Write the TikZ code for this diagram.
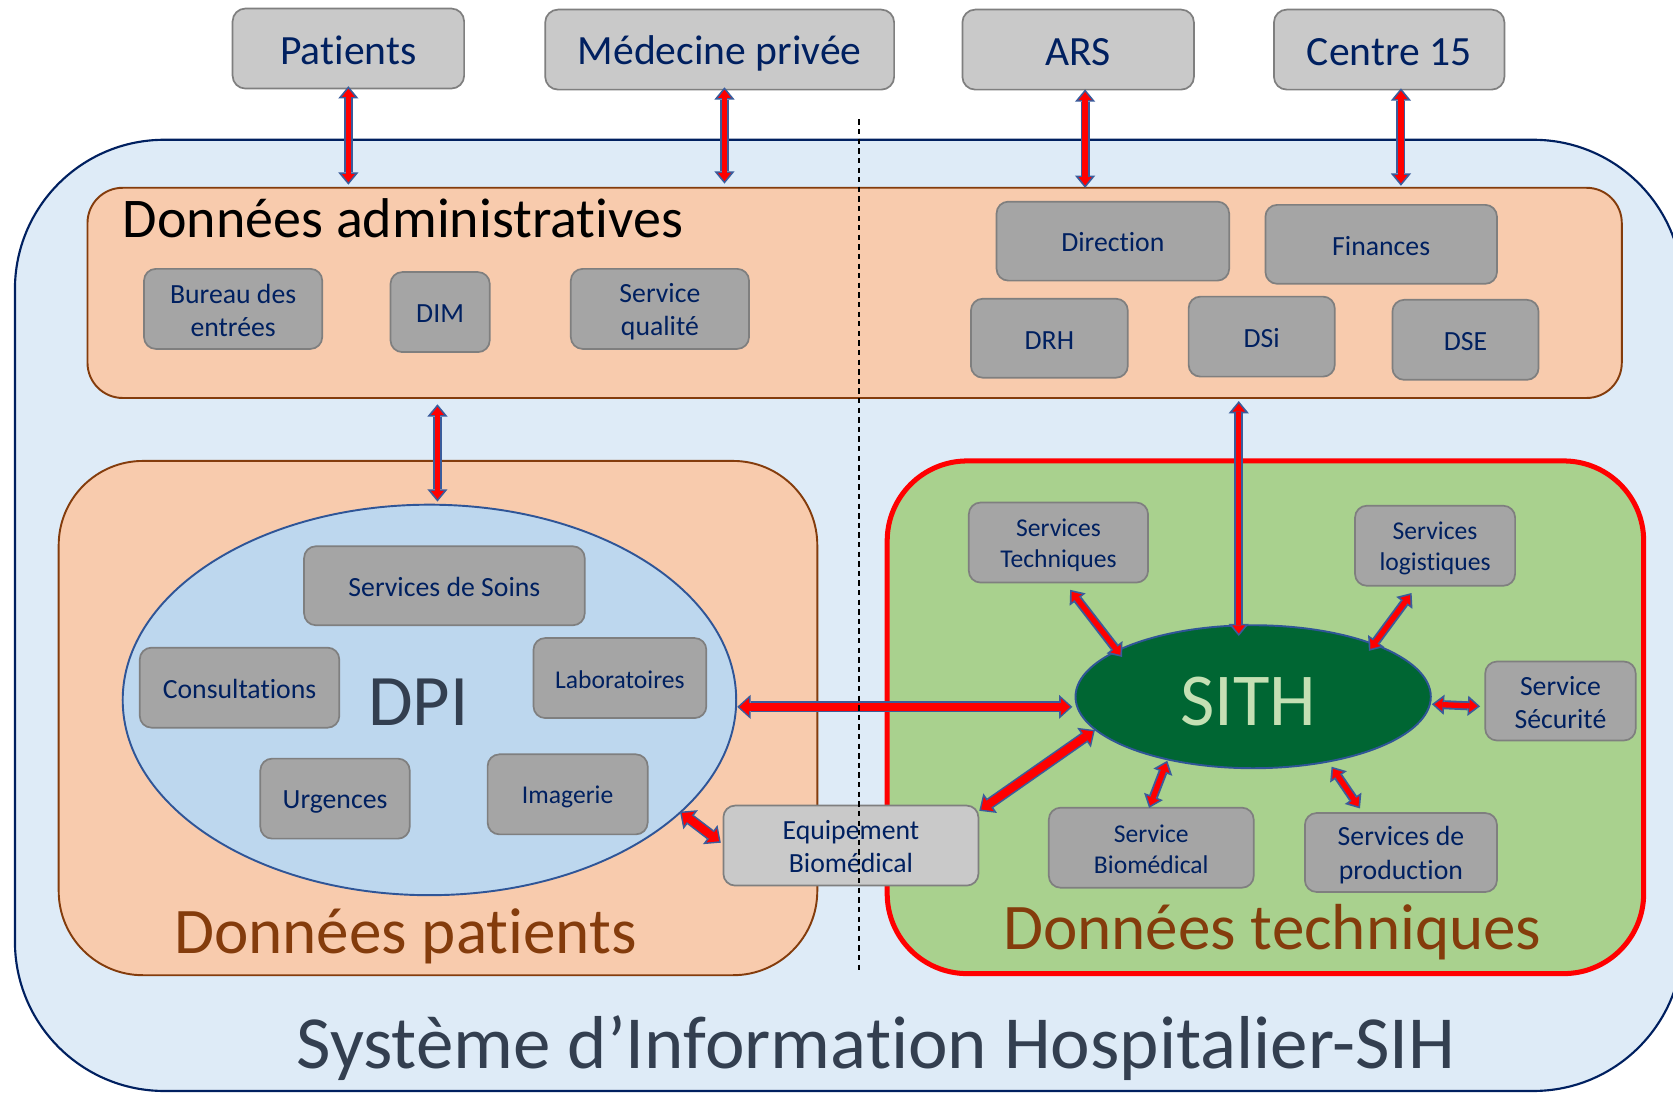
\documentclass[tikz,border=0pt]{standalone}
\usepackage{fontspec}
\setmainfont{Carlito}[Ligatures=NoCommon]
\usetikzlibrary{arrows.meta,calc,shapes.geometric}
\definecolor{sihfill}{HTML}{DEEBF7}
\definecolor{sihline}{HTML}{002060}
\definecolor{peach}{HTML}{F8CBAD}
\definecolor{brownline}{HTML}{843C0C}
\definecolor{greenfill}{HTML}{A9D18E}
\definecolor{dpifill}{HTML}{BDD7EE}
\definecolor{ellline}{HTML}{2F5597}
\definecolor{sithfill}{HTML}{006633}
\definecolor{sithtext}{HTML}{C5E0B4}
\definecolor{lightbox}{HTML}{C9C9C9}
\definecolor{darkbox}{HTML}{A5A5A5}
\definecolor{boxline}{HTML}{7F7F7F}
\definecolor{navytext}{HTML}{002060}
\definecolor{slate}{HTML}{333F50}
\definecolor{arrblue}{HTML}{3A5C9C}
\newcommand\lstr{\rule[-0.1em]{0pt}{0.98em}}
\newcommand\DArr[3][thin]{\draw[#1blue] #2 -- #3; \draw[#1red] #2 -- #3;}
\tikzset{
  container/.style={inner sep=0pt},
  topbox/.style={draw=boxline, fill=lightbox, line width=1.6pt, rounded corners=12pt, inner sep=0pt, text=navytext, align=center, font=\fontsize{39}{47}\selectfont},
  ibox/.style={draw=boxline, fill=darkbox, line width=1.6pt, rounded corners=11pt, inner sep=0pt, text=navytext, align=center, font=\fontsize{26}{31}\selectfont},
  ibsmall/.style={ibox, font=\fontsize{24}{29}\selectfont},
  thinblue/.style={arrblue, line width=8.5pt, {Triangle[length=11.5pt,width=19pt,line width=0pt]}-{Triangle[length=11.5pt,width=19pt,line width=0pt]}},
  thinred/.style={red, line width=5pt, shorten <=2.4pt, shorten >=2.4pt, {Triangle[length=7.6pt,width=12pt,line width=0pt]}-{Triangle[length=7.6pt,width=12pt,line width=0pt]}},
  thickblue/.style={arrblue, line width=10.5pt, {Triangle[length=12.5pt,width=22.5pt,line width=0pt]}-{Triangle[length=12.5pt,width=22.5pt,line width=0pt]}},
  thickred/.style={red, line width=7.5pt, shorten <=2.2pt, shorten >=2.2pt, {Triangle[length=8.7pt,width=16pt,line width=0pt]}-{Triangle[length=8.7pt,width=16pt,line width=0pt]}},
  sep/.style={black, line width=1.3pt, dash pattern=on 5pt off 4pt}
}
\begin{document}
\begin{tikzpicture}[x=1pt, y=-1pt]
\fill[white] (0,0) rectangle (1568,1024.4);
\useasboundingbox (0,0) rectangle (1568,1024.4);
% containers
\node[container, draw=sihline, fill=sihfill, line width=2pt, rounded corners=140pt, minimum width=1563pt, minimum height=891.5pt] (sih) at (795.5,576.75) {};
\node[container, draw=brownline, fill=peach, line width=1.8pt, rounded corners=33pt, minimum width=1438pt, minimum height=197pt] (adm) at (801,274.5) {};
\node[container, draw=brownline, fill=peach, line width=1.8pt, rounded corners=79pt, minimum width=711pt, minimum height=482pt] (pdat) at (410.5,673) {};
\node[container, draw=red, fill=greenfill, line width=4.7pt, rounded corners=75pt, minimum width=709pt, minimum height=480.5pt] (tdat) at (1186,672.25) {};
\node[ellipse, draw=ellline, fill=dpifill, line width=1.8pt, inner sep=0pt, minimum width=575pt, minimum height=366pt] (dpi) at (402.5,656) {};
\node[ellipse, draw=ellline, fill=sithfill, line width=1.8pt, inner sep=0pt, minimum width=333pt, minimum height=134pt] (sith) at (1174.5,653) {};
% top boxes
\node[topbox, minimum width=217pt, minimum height=75pt] (pat) at (326.5,45.5) {\lstr Patients};
\node[topbox, minimum width=327pt, minimum height=75pt] (med) at (674.5,46.5) {\lstr Médecine privée};
\node[topbox, minimum width=217pt, minimum height=75pt] (ars) at (1010.5,46.5) {\lstr ARS};
\node[topbox, minimum width=216pt, minimum height=75pt] (c15) at (1302,46.5) {\lstr Centre 15};
% admin boxes
\node[ibox, minimum width=167pt, minimum height=75pt] (bde) at (218.5,289.5) {\lstr Bureau des\\\lstr entrées};
\node[ibox, minimum width=93pt, minimum height=75pt] (dim) at (412.5,292.5) {\lstr DIM};
\node[ibox, minimum width=167pt, minimum height=75pt] (squal) at (618.5,289.5) {\lstr Service\\\lstr qualité};
\node[ibox, minimum width=218pt, minimum height=74pt] (dir) at (1043,226) {\lstr Direction};
\node[ibox, minimum width=217pt, minimum height=74pt] (fin) at (1294.5,229) {\lstr Finances};
\node[ibox, minimum width=147pt, minimum height=74pt] (drh) at (983.5,317) {\lstr DRH};
\node[ibox, minimum width=137pt, minimum height=75pt] (dsi) at (1182.5,315.5) {\lstr DSi};
\node[ibox, minimum width=137pt, minimum height=75pt] (dse) at (1373.5,318.5) {\lstr DSE};
% DPI boxes
\node[ibox, minimum width=263pt, minimum height=74pt] (soins) at (416.5,549) {\lstr Services de Soins};
\node[ibox, minimum width=187pt, minimum height=75pt] (cons) at (224.5,644.5) {\lstr Consultations};
\node[ibsmall, minimum width=162pt, minimum height=75pt] (labo) at (581,635.5) {\lstr Laboratoires};
\node[ibox, minimum width=140pt, minimum height=75pt] (urg) at (314,748.5) {\lstr Urgences};
\node[ibsmall, minimum width=150pt, minimum height=75pt] (img) at (532,744.5) {\lstr Imagerie};
\node[ibox, fill=lightbox, minimum width=239pt, minimum height=75pt] (equip) at (797.5,792.5) {\lstr Equipement\\\lstr Biomédical};
% technique boxes
\node[ibsmall, minimum width=168pt, minimum height=75pt] (stech) at (992,508.5) {\lstr Services\\\lstr Techniques};
\node[ibsmall, minimum width=150pt, minimum height=75pt] (slog) at (1345,511.5) {\lstr Services\\\lstr logistiques};
\node[ibox, minimum width=141pt, minimum height=74pt] (ssec) at (1462.5,657) {\lstr Service\\\lstr Sécurité};
\node[ibsmall, minimum width=192pt, minimum height=75pt] (sbio) at (1079,794.5) {\lstr Service\\\lstr Biomédical};
\node[ibox, minimum width=180pt, minimum height=74pt] (sprod) at (1313,799) {\lstr Services de\\\lstr production};
% titles
\node[anchor=base west, inner sep=0pt, font=\fontsize{52.5}{63}\selectfont] (tadm) at (115,223) {Données administratives};
\node[anchor=base, inner sep=0pt, text=brownline, font=\fontsize{61}{73}\selectfont] (tpat) at (380,894) {Données patients};
\node[anchor=base, inner sep=0pt, text=brownline, font=\fontsize{61}{73}\selectfont] (ttech) at (1192.5,890) {Données techniques};
\node[anchor=base, inner sep=0pt, text=slate, font=\fontsize{70.3}{84}\selectfont] (tsih) at (821,1001) {Système d’Information Hospitalier-SIH};
\node[anchor=base, inner sep=0pt, text=slate, font=\fontsize{68}{82}\selectfont] (tdpi) at (392,680) {DPI};
\node[anchor=base, inner sep=0pt, text=sithtext, font=\fontsize{70}{84}\selectfont] (tsith) at (1170,680) {SITH};
% arrows
\DArr{($(pat.south)+(0,-3)$)}{($(pat.south |- adm.north)+(0,-2)$)}
\DArr{($(med.south)+(4.5,-3)$)}{($(med.south |- adm.north)+(4.5,-3)$)}
\DArr{($(ars.south)+(6.5,-1)$)}{($(ars.south |- adm.north)+(6.5,1)$)}
\DArr{($(c15.south)+(11,-2)$)}{($(c15.south |- adm.north)+(11,-1)$)}
\DArr{($(dpi.north |- adm.south)+(7.5,5)$)}{($(dpi.north)+(7.5,-2)$)}
\DArr{($(sith.north |- adm.south)+(-13.5,2)$)}{($(sith.north)+(-13.5,11)$)}
\DArr{($(stech.south)+(11,6)$)}{($(sith.center)+(-122.9,-37.3)$)}
\DArr{($(slog.south)+(-22,6)$)}{($(sith.center)+(108.5,-43)$)}
\DArr{($(sith.center)+(167.5,7)$)}{($(ssec.west)+(-4,5)$)}
\DArr{($(sith.center)+(-80.5,60)$)}{($(sbio.north)+(-2,1)$)}
\DArr{($(sith.center)+(73.5,65.6)$)}{($(sprod.north)+(-38.4,-3.5)$)}
\DArr[thick]{($(sith.center)+(-148.3,31.2)$)}{($(equip.north east)+(0,5.7)$)}
\DArr[thick]{($(dpi.east)+(0,6.5)$)}{($(sith.west)+(-2,9.5)$)}
\DArr[thick]{($(dpi.center)+(234.8,104.7)$)}{($(equip.west)+(-1.6,-2.7)$)}
% separator
\draw[sep] (805,112) -- (805,912);
\end{tikzpicture}
\end{document}
